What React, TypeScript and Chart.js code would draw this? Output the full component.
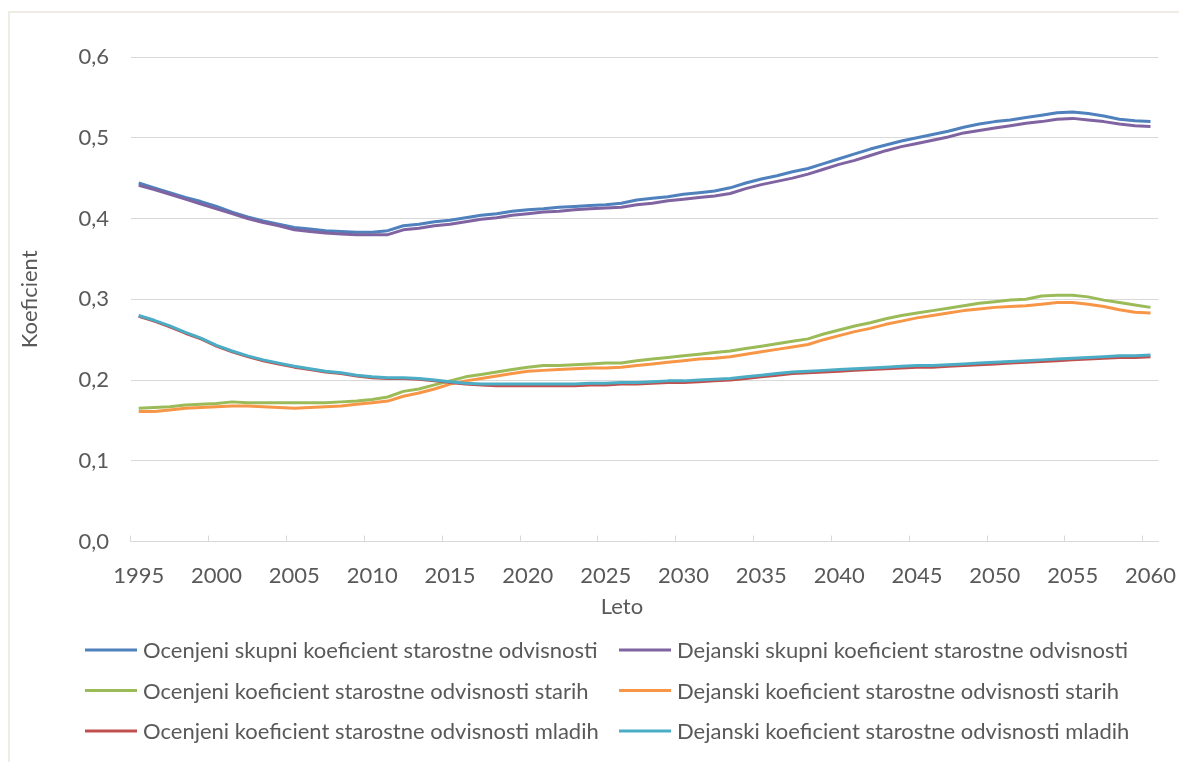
import React, { useEffect, useRef } from "react";
import { Chart, registerables } from "chart.js";

Chart.register(...registerables);

// Years on the category axis, 1995–2060
const years: string[] = [];
for (let y = 1995; y <= 2060; y++) years.push(String(y));

const ocenjeniSkupni = [
  0.444, 0.438, 0.432, 0.426, 0.421, 0.415, 0.408, 0.402, 0.397, 0.393,
  0.389, 0.387, 0.385, 0.384, 0.383, 0.383, 0.385, 0.391, 0.393, 0.396,
  0.398, 0.401, 0.404, 0.406, 0.409, 0.411, 0.412, 0.414, 0.415, 0.416,
  0.417, 0.419, 0.423, 0.425, 0.427, 0.430, 0.432, 0.434, 0.438, 0.444,
  0.449, 0.453, 0.458, 0.462, 0.468, 0.474, 0.480, 0.486, 0.491, 0.496,
  0.500, 0.504, 0.508, 0.513, 0.517, 0.520, 0.522, 0.525, 0.528, 0.531,
  0.532, 0.530, 0.527, 0.523, 0.521, 0.520,
];

const dejanskiSkupni = [
  0.441, 0.436, 0.430, 0.424, 0.418, 0.412, 0.406, 0.400, 0.395, 0.391,
  0.386, 0.384, 0.382, 0.381, 0.380, 0.380, 0.380, 0.386, 0.388, 0.391,
  0.393, 0.396, 0.399, 0.401, 0.404, 0.406, 0.408, 0.409, 0.411, 0.412,
  0.413, 0.414, 0.417, 0.419, 0.422, 0.424, 0.426, 0.428, 0.431, 0.437,
  0.442, 0.446, 0.450, 0.455, 0.461, 0.467, 0.472, 0.478, 0.484, 0.489,
  0.493, 0.497, 0.501, 0.506, 0.509, 0.512, 0.515, 0.518, 0.520, 0.523,
  0.524, 0.522, 0.520, 0.517, 0.515, 0.514,
];

const ocenjeniStarih = [
  0.165, 0.166, 0.167, 0.169, 0.170, 0.171, 0.173, 0.172, 0.172, 0.172,
  0.172, 0.172, 0.172, 0.173, 0.174, 0.176, 0.179, 0.186, 0.189, 0.194,
  0.199, 0.204, 0.207, 0.210, 0.213, 0.216, 0.218, 0.218, 0.219, 0.220,
  0.221, 0.221, 0.224, 0.226, 0.228, 0.230, 0.232, 0.234, 0.236, 0.239,
  0.242, 0.245, 0.248, 0.251, 0.257, 0.262, 0.267, 0.271, 0.276, 0.280,
  0.283, 0.286, 0.289, 0.292, 0.295, 0.297, 0.299, 0.300, 0.304, 0.305,
  0.305, 0.303, 0.299, 0.296, 0.293, 0.290,
];

const dejanskiStarih = [
  0.161, 0.161, 0.163, 0.165, 0.166, 0.167, 0.168, 0.168, 0.167, 0.166,
  0.165, 0.166, 0.167, 0.168, 0.170, 0.172, 0.174, 0.180, 0.184, 0.189,
  0.195, 0.199, 0.202, 0.205, 0.208, 0.211, 0.212, 0.213, 0.214, 0.215,
  0.215, 0.216, 0.218, 0.220, 0.222, 0.224, 0.226, 0.227, 0.229, 0.232,
  0.235, 0.238, 0.241, 0.244, 0.250, 0.255, 0.260, 0.264, 0.269, 0.273,
  0.277, 0.280, 0.283, 0.286, 0.288, 0.290, 0.291, 0.292, 0.294, 0.296,
  0.296, 0.294, 0.291, 0.287, 0.284, 0.283,
];

const ocenjeniMladih = [
  0.279, 0.273, 0.266, 0.258, 0.251, 0.242, 0.235, 0.229, 0.224, 0.220,
  0.216, 0.213, 0.210, 0.208, 0.205, 0.203, 0.202, 0.202, 0.201, 0.199,
  0.197, 0.195, 0.194, 0.193, 0.193, 0.193, 0.193, 0.193, 0.193, 0.194,
  0.194, 0.195, 0.195, 0.196, 0.197, 0.197, 0.198, 0.199, 0.200, 0.202,
  0.204, 0.206, 0.208, 0.209, 0.210, 0.211, 0.212, 0.213, 0.214, 0.215,
  0.216, 0.216, 0.217, 0.218, 0.219, 0.220, 0.221, 0.222, 0.223, 0.224,
  0.225, 0.226, 0.227, 0.228, 0.228, 0.229,
];

const dejanskiMladih = [
  0.280, 0.274, 0.267, 0.259, 0.252, 0.243, 0.236, 0.230, 0.225, 0.221,
  0.217, 0.214, 0.211, 0.209, 0.206, 0.204, 0.203, 0.203, 0.202, 0.200,
  0.198, 0.196, 0.195, 0.195, 0.195, 0.195, 0.195, 0.195, 0.195, 0.196,
  0.196, 0.197, 0.197, 0.198, 0.199, 0.199, 0.200, 0.201, 0.202, 0.204,
  0.206, 0.208, 0.210, 0.211, 0.212, 0.213, 0.214, 0.215, 0.216, 0.217,
  0.218, 0.218, 0.219, 0.220, 0.221, 0.222, 0.223, 0.224, 0.225, 0.226,
  0.227, 0.228, 0.229, 0.230, 0.230, 0.231,
];

const seriesLabels = [
  "Ocenjeni skupni koeficient starostne odvisnosti",
  "Dejanski skupni koeficient starostne odvisnosti",
  "Ocenjeni koeficient starostne odvisnosti starih",
  "Dejanski koeficient starostne odvisnosti starih",
  "Ocenjeni koeficient starostne odvisnosti mladih",
  "Dejanski koeficient starostne odvisnosti mladih",
];

const seriesData = [
  ocenjeniSkupni,
  dejanskiSkupni,
  ocenjeniStarih,
  dejanskiStarih,
  ocenjeniMladih,
  dejanskiMladih,
];

const seriesColors = ["#4F81BD", "#8064A2", "#9BBB59", "#F79646", "#C0504D", "#4BACC6"];

const X_TITLE = "Leto";
const Y_TITLE = "Koeficient";

const FONT_FAMILY = "Lato, 'Open Sans', sans-serif";
const FONT_SIZE = 22;
const TEXT_COLOR = "#595959";
const GRID_COLOR = "#d9d9d9";
const W = 1179;
const H = 762;
// The canvas runs slightly past the visible frame so the last year label has room
const CANVAS_W = 1203;

// Horizontal-axis title and two-column legend under the plot
const X_TITLE_POS = { x: 622, y: 607 };
const LEGEND_COL_X = [85, 619];
const LEGEND_ROW_Y = 650;
const LEGEND_ROW_STEP = 40.5;
const LEGEND_SWATCH = 52;
const LEGEND_GAP = 6;

const footer = {
  id: "footer",
  afterDraw(chart: any) {
    const ctx: CanvasRenderingContext2D = chart.ctx;
    ctx.save();
    ctx.font = `${FONT_SIZE}px ${FONT_FAMILY}`;
    ctx.textBaseline = "middle";
    ctx.fillStyle = TEXT_COLOR;

    ctx.textAlign = "center";
    ctx.fillText(X_TITLE, X_TITLE_POS.x, X_TITLE_POS.y);

    ctx.textAlign = "left";
    chart.data.datasets.forEach((ds: any, i: number) => {
      const x = LEGEND_COL_X[i % 2];
      const y = LEGEND_ROW_Y + Math.floor(i / 2) * LEGEND_ROW_STEP;
      ctx.strokeStyle = ds.borderColor;
      ctx.lineWidth = 3;
      ctx.lineCap = "butt";
      ctx.beginPath();
      ctx.moveTo(x, y);
      ctx.lineTo(x + LEGEND_SWATCH, y);
      ctx.stroke();
      ctx.fillText(ds.label, x + LEGEND_SWATCH + LEGEND_GAP, y + 1);
    });
    ctx.restore();
  },
};

export default function App() {
  const canvasRef = useRef<HTMLCanvasElement>(null);

  useEffect(() => {
    const canvas = canvasRef.current;
    if (!canvas) return;
    const font = { family: FONT_FAMILY, size: FONT_SIZE };

    const chart = new Chart(canvas, {
      type: "line",
      data: {
        labels: years,
        datasets: seriesData.map((data, i) => ({
          label: seriesLabels[i],
          data,
          borderColor: seriesColors[i],
          backgroundColor: seriesColors[i],
          borderWidth: 3,
          pointRadius: 0,
          pointHoverRadius: 0,
          tension: 0,
          fill: false,
          borderJoinStyle: "round" as const,
          // later series are painted above earlier ones
          order: seriesData.length - i,
        })),
      },
      plugins: [footer],
      options: {
        animation: false,
        responsive: false,
        maintainAspectRatio: false,
        events: [],
        layout: { padding: { left: 8, right: 0, top: 57, bottom: 146 } },
        plugins: {
          tooltip: { enabled: false },
          legend: { display: false },
        },
        scales: {
          x: {
            type: "category",
            offset: true,
            grid: {
              display: true,
              offset: true,
              drawOnChartArea: false,
              drawTicks: true,
              tickLength: -6,
              color: (ctx: any) =>
                ctx.type === "tick" && ctx.index % 5 === 0 ? GRID_COLOR : "rgba(0,0,0,0)",
            },
            border: { display: true, color: GRID_COLOR, width: 1 },
            ticks: {
              autoSkip: false,
              maxRotation: 0,
              minRotation: 0,
              padding: 27,
              color: TEXT_COLOR,
              font,
              callback: (_v: any, i: number) => (i % 5 === 0 ? years[i] : ""),
            },
          },
          y: {
            min: 0,
            max: 0.6,
            ticks: {
              stepSize: 0.1,
              padding: 22,
              color: TEXT_COLOR,
              font,
              callback: (v: any) => Number(v).toFixed(1).replace(".", ","),
            },
            grid: { color: GRID_COLOR, drawTicks: false },
            border: { display: false },
            title: {
              display: true,
              text: Y_TITLE,
              color: TEXT_COLOR,
              font,
              padding: { top: 9, bottom: 13 },
            },
          },
        },
      },
    });

    return () => chart.destroy();
  }, []);

  return (
    <div
      style={{
        position: "fixed",
        left: 0,
        top: 0,
        width: W,
        height: H,
        overflow: "hidden",
        background: "#ffffff",
      }}
    >
      <div
        style={{
          position: "absolute",
          left: 8,
          top: 11,
          width: W + 40,
          height: H + 40,
          border: "2px solid #eeece4",
          boxSizing: "border-box",
        }}
      />
      <canvas
        ref={canvasRef}
        width={CANVAS_W}
        height={H}
        style={{ position: "absolute", left: 0, top: 0, width: CANVAS_W, height: H }}
      />
    </div>
  );
}
